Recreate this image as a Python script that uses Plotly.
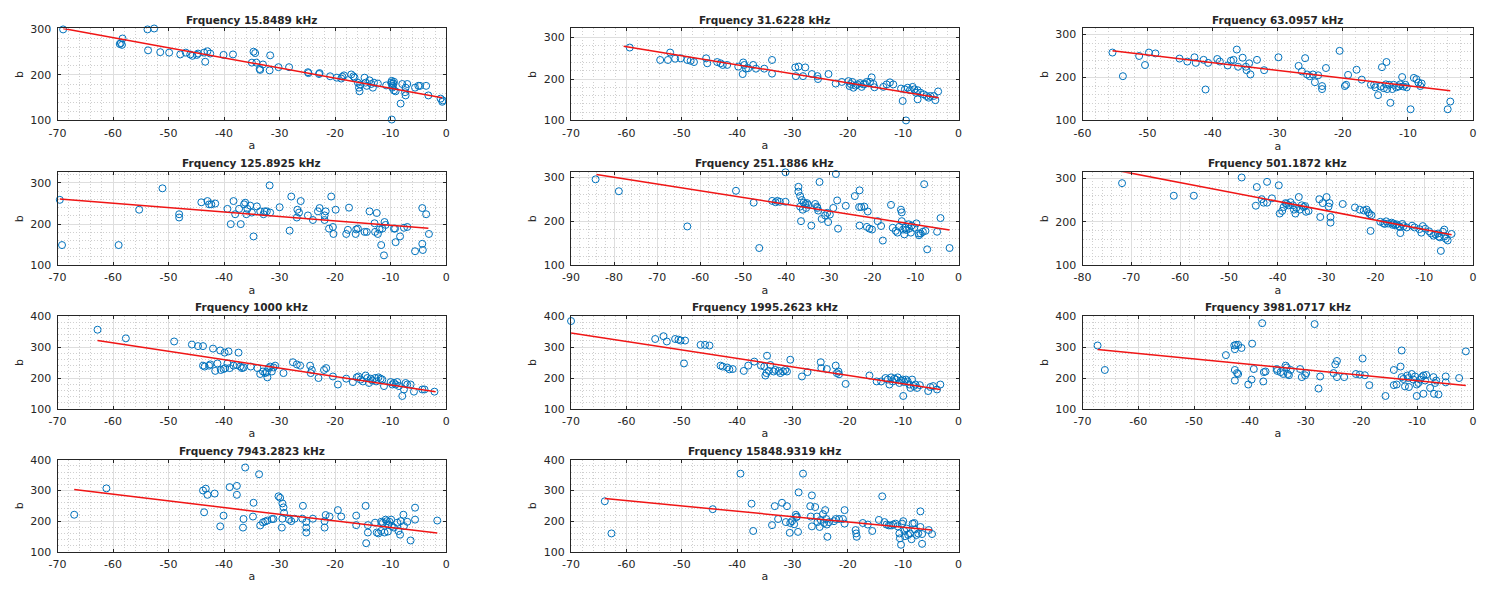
import plotly.graph_objects as go

# Frequencies shown in each subplot title (kHz)
freqs = ["15.8489", "31.6228", "63.0957", "125.8925", "251.1886", "501.1872",
         "1000", "1995.2623", "3981.0717", "7943.2823", "15848.9319"]

# Measured (a, b) pairs for each frequency
p01 = [(-69.0, 300), (-58.3, 280), (-58.6, 270), (-58.4, 266), (-58.8, 268), (-53.8, 300), (-52.6, 302),
       (-53.7, 254), (-51.5, 250), (-49.9, 249), (-47.9, 245), (-46.9, 249), (-46.1, 245), (-45.7, 242),
       (-44.9, 244), (-44.7, 247), (-43.6, 249), (-43.0, 252), (-42.5, 247), (-43.4, 229), (-40.1, 244),
       (-38.4, 245), (-34.7, 251), (-34.4, 248), (-34.2, 227), (-35.0, 227), (-33.5, 211), (-33.6, 213),
       (-33.0, 223), (-31.7, 243), (-31.8, 210), (-30.2, 217), (-28.3, 217), (-24.9, 206), (-24.8, 204),
       (-22.9, 202), (-22.8, 204), (-20.9, 197), (-19.7, 194), (-18.9, 192), (-18.7, 196), (-18.4, 199),
       (-17.1, 201), (-16.7, 197), (-16.5, 194), (-15.9, 183), (-15.7, 172), (-15.6, 164), (-15.5, 179),
       (-14.7, 194), (-14.5, 183), (-14.3, 176), (-13.8, 188), (-13.5, 180), (-13.2, 172), (-13.0, 183),
       (-12.3, 181), (-10.8, 177), (-9.9, 183), (-9.8, 180), (-9.6, 176), (-9.5, 181), (-9.7, 172),
       (-9.4, 185), (-9.8, 187), (-9.8, 102), (-9.4, 166), (-9.1, 164), (-8.2, 137), (-7.9, 180),
       (-7.3, 172), (-7.0, 180), (-7.4, 162), (-7.3, 155), (-5.6, 172), (-5.0, 176), (-4.7, 176),
       (-3.6, 176), (-3.2, 155), (-1.0, 148), (-0.7, 141), (-0.6, 144)]

p02 = [(-60.6, 324), (-59.4, 276), (-53.9, 246), (-52.5, 246), (-52.1, 264), (-51.2, 249), (-50.2, 250),
       (-49.0, 246), (-48.4, 244), (-47.8, 241), (-45.6, 250), (-45.4, 238), (-43.6, 241), (-43.0, 238),
       (-42.6, 234), (-41.8, 234), (-39.8, 230), (-38.9, 240), (-38.7, 234), (-39.0, 212), (-38.4, 225),
       (-38.0, 226), (-37.1, 234), (-36.6, 225), (-35.1, 225), (-33.7, 246), (-33.7, 213), (-29.5, 228),
       (-29.4, 207), (-28.9, 230), (-28.1, 207), (-27.7, 228), (-26.5, 212), (-25.5, 207), (-25.4, 200),
       (-23.5, 212), (-22.2, 189), (-21.1, 193), (-19.9, 195), (-19.7, 183), (-19.5, 188), (-19.2, 193),
       (-19.0, 179), (-18.6, 184), (-18.3, 187), (-17.8, 190), (-17.5, 181), (-17.2, 187), (-16.9, 188),
       (-16.6, 193), (-16.0, 193), (-15.7, 204), (-15.4, 188), (-15.2, 180), (-13.6, 181), (-13.0, 187),
       (-12.4, 192), (-11.8, 187), (-10.1, 147), (-9.5, 100), (-10.4, 177), (-9.7, 175), (-9.2, 179),
       (-8.8, 173), (-8.3, 181), (-8.0, 175), (-7.7, 167), (-7.4, 173), (-6.9, 167), (-6.3, 163),
       (-5.8, 159), (-5.4, 155), (-5.1, 159), (-4.5, 159), (-4.2, 149), (-3.7, 170), (-7.4, 151)]

p03 = [(-55.4, 258), (-53.8, 203), (-51.3, 250), (-49.8, 258), (-48.8, 256), (-50.4, 229), (-45.1, 244),
       (-43.9, 237), (-42.8, 247), (-42.6, 234), (-41.4, 241), (-40.7, 234), (-41.1, 172), (-39.3, 243),
       (-38.9, 237), (-37.7, 228), (-37.2, 239), (-36.8, 241), (-36.3, 265), (-36.1, 225), (-35.4, 246),
       (-34.9, 225), (-34.8, 217), (-34.4, 233), (-34.2, 207), (-33.2, 241), (-32.1, 217), (-29.9, 247),
       (-26.8, 227), (-26.3, 214), (-25.5, 207), (-25.1, 203), (-24.6, 207), (-24.3, 189), (-23.8, 205),
       (-23.2, 180), (-23.2, 173), (-25.8, 245), (-22.6, 315), (-22.6, 222), (-20.5, 262), (-19.7, 180),
       (-19.5, 183), (-19.2, 206), (-17.9, 218), (-17.1, 195), (-15.7, 183), (-15.2, 183), (-15.0, 177),
       (-14.6, 159), (-14.2, 179), (-14.0, 224), (-13.7, 175), (-13.4, 184), (-13.3, 236), (-13.2, 173),
       (-12.9, 183), (-12.7, 141), (-12.4, 173), (-12.2, 183), (-11.8, 177), (-11.4, 179), (-11.2, 184),
       (-10.9, 201), (-10.7, 179), (-10.4, 183), (-10.2, 177), (-9.6, 126), (-9.1, 199), (-8.7, 196),
       (-8.4, 188), (-8.1, 180), (-7.9, 186), (-3.9, 126), (-3.5, 144)]

p04 = [(-69.6, 259), (-69.2, 149), (-59.0, 149), (-55.3, 235), (-51.1, 287), (-48.1, 224), (-48.1, 216),
       (-44.1, 253), (-43.0, 256), (-42.7, 248), (-42.3, 248), (-41.6, 250), (-39.4, 237), (-38.8, 200),
       (-38.3, 256), (-38.0, 224), (-37.3, 237), (-37.0, 200), (-36.4, 248), (-36.2, 252), (-36.0, 224),
       (-35.8, 237), (-35.3, 245), (-35.0, 228), (-34.1, 243), (-33.5, 231), (-32.9, 224), (-32.7, 231),
       (-32.3, 231), (-31.8, 294), (-31.7, 228), (-34.7, 170), (-30.0, 241), (-28.2, 184), (-27.9, 267),
       (-26.9, 216), (-26.8, 235), (-26.5, 228), (-26.2, 256), (-24.9, 221), (-24.3, 328), (-24.0, 210),
       (-23.1, 231), (-22.8, 239), (-21.9, 221), (-21.9, 210), (-21.7, 231), (-20.7, 267), (-21.1, 189),
       (-20.4, 193), (-20.3, 176), (-19.9, 235), (-18.0, 176), (-17.7, 186), (-17.5, 240), (-16.3, 176),
       (-16.2, 187), (-15.9, 189), (-14.7, 181), (-14.3, 181), (-13.8, 231), (-12.9, 202), (-12.8, 181),
       (-12.5, 227), (-12.3, 176), (-12.0, 187), (-11.7, 149), (-11.5, 189), (-11.2, 124), (-11.1, 205),
       (-10.9, 198), (-9.4, 189), (-9.2, 189), (-9.1, 156), (-8.3, 170), (-7.6, 191), (-7.0, 193),
       (-5.6, 134), (-4.3, 239), (-4.3, 152), (-4.2, 137), (-3.6, 224), (-3.1, 176)]

p05 = [(-84.3, 295), (-78.9, 268), (-63.0, 188), (-51.7, 269), (-47.6, 242), (-46.3, 313), (-46.3, 139),
       (-43.3, 246), (-42.5, 243), (-42.1, 246), (-41.5, 244), (-40.2, 311), (-40.2, 244), (-37.2, 278),
       (-37.2, 267), (-36.8, 257), (-36.8, 233), (-36.6, 200), (-36.4, 248), (-36.2, 226), (-36.0, 242),
       (-35.6, 239), (-35.4, 230), (-35.2, 241), (-34.9, 237), (-34.2, 190), (-33.3, 239), (-32.9, 233),
       (-32.8, 230), (-32.6, 224), (-32.3, 289), (-31.8, 205), (-31.0, 213), (-30.5, 219), (-30.3, 198),
       (-29.9, 215), (-29.1, 230), (-28.5, 307), (-28.2, 247), (-28.0, 183), (-26.2, 235), (-24.1, 257),
       (-23.0, 270), (-23.1, 232), (-23.0, 190), (-22.6, 232), (-21.9, 233), (-21.1, 222), (-21.3, 187),
       (-20.7, 183), (-20.1, 181), (-18.8, 200), (-18.0, 189), (-17.6, 156), (-15.7, 237), (-15.3, 185),
       (-14.6, 178), (-14.2, 174), (-13.8, 187), (-13.4, 226), (-13.2, 220), (-13.2, 200), (-12.9, 181),
       (-12.6, 170), (-12.4, 185), (-12.1, 180), (-11.6, 193), (-11.5, 183), (-11.1, 174), (-10.9, 190),
       (-10.3, 185), (-9.8, 195), (-9.3, 172), (-9.2, 168), (-8.8, 172), (-8.3, 176), (-8.0, 284),
       (-7.7, 178), (-7.3, 136), (-5.0, 176), (-4.2, 207), (-2.1, 139)]

p06 = [(-71.9, 289), (-61.3, 260), (-57.2, 260), (-47.4, 302), (-44.3, 280), (-44.5, 237), (-43.3, 252),
       (-42.9, 244), (-42.2, 244), (-42.2, 292), (-41.2, 254), (-39.8, 284), (-39.6, 219), (-39.1, 225),
       (-38.8, 234), (-38.4, 243), (-38.2, 241), (-37.8, 238), (-37.4, 245), (-36.9, 238), (-36.7, 228),
       (-36.4, 219), (-36.2, 232), (-35.7, 257), (-35.5, 228), (-35.1, 238), (-34.7, 234), (-34.4, 236),
       (-34.2, 223), (-33.7, 225), (-31.5, 252), (-30.8, 243), (-30.0, 257), (-29.6, 235), (-29.4, 243),
       (-29.2, 198), (-29.2, 211), (-31.3, 211), (-26.7, 241), (-24.2, 233), (-23.2, 228), (-22.4, 226),
       (-21.8, 228), (-21.5, 222), (-21.2, 218), (-20.8, 215), (-21.0, 179), (-19.0, 200), (-18.4, 197),
       (-18.1, 195), (-17.8, 201), (-17.4, 196), (-16.7, 198), (-16.5, 193), (-16.3, 196), (-15.9, 192),
       (-15.6, 194), (-15.2, 190), (-15.0, 188), (-14.9, 174), (-14.5, 195), (-14.2, 190), (-13.6, 187),
       (-12.5, 191), (-12.0, 187), (-11.0, 183), (-10.6, 175), (-10.3, 190), (-9.8, 184), (-9.0, 178),
       (-8.6, 173), (-8.1, 168), (-7.7, 171), (-7.2, 173), (-7.0, 166), (-6.8, 164), (-6.6, 133),
       (-6.2, 177), (-5.9, 166), (-5.6, 161), (-5.2, 157), (-4.4, 172), (-5.9, 182)]

p07 = [(-62.8, 356), (-57.7, 328), (-49.0, 318), (-45.8, 308), (-44.7, 303), (-43.8, 303), (-43.8, 240),
       (-43.5, 237), (-42.7, 240), (-42.5, 244), (-42.0, 295), (-40.7, 289), (-39.9, 282), (-39.2, 286),
       (-37.4, 282), (-41.6, 223), (-41.2, 247), (-40.6, 226), (-40.1, 229), (-39.8, 232), (-39.4, 247),
       (-39.0, 232), (-38.3, 240), (-37.7, 242), (-37.1, 237), (-36.8, 232), (-36.5, 234), (-35.2, 237),
       (-34.0, 232), (-33.5, 213), (-33.0, 221), (-32.6, 216), (-32.3, 219), (-32.2, 202), (-32.0, 232),
       (-31.7, 237), (-31.4, 221), (-31.1, 234), (-30.8, 240), (-29.3, 216), (-27.6, 251), (-26.9, 244),
       (-26.3, 240), (-24.5, 240), (-24.4, 216), (-24.2, 226), (-23.0, 200), (-22.0, 226), (-21.6, 232),
       (-20.4, 205), (-19.5, 179), (-18.0, 198), (-16.8, 187), (-16.1, 202), (-15.8, 205), (-15.4, 195),
       (-15.0, 189), (-14.5, 208), (-14.2, 200), (-13.9, 184), (-13.6, 198), (-13.3, 192), (-12.8, 200),
       (-12.6, 189), (-12.2, 202), (-11.8, 198), (-11.5, 195), (-11.2, 174), (-10.0, 187), (-9.7, 179),
       (-9.4, 184), (-9.1, 179), (-8.8, 187), (-8.5, 174), (-7.9, 142), (-7.6, 163), (-7.3, 184),
       (-7.0, 179), (-6.4, 179), (-5.8, 156), (-4.3, 163), (-3.9, 163), (-2.1, 156)]

p08 = [(-70.0, 384), (-54.8, 326), (-53.3, 335), (-52.7, 318), (-51.2, 326), (-50.6, 324), (-50.2, 321),
       (-49.4, 321), (-49.6, 247), (-46.6, 307), (-45.8, 307), (-45.0, 305), (-43.0, 240), (-42.6, 237),
       (-41.8, 234), (-41.4, 228), (-40.8, 229), (-38.8, 223), (-38.0, 240), (-36.9, 253), (-35.7, 240),
       (-35.1, 237), (-34.6, 272), (-34.9, 208), (-34.7, 216), (-34.3, 223), (-34.0, 242), (-33.4, 221),
       (-33.1, 226), (-32.5, 223), (-32.2, 216), (-31.7, 221), (-31.3, 226), (-31.0, 221), (-30.4, 259),
       (-28.3, 205), (-27.3, 219), (-24.9, 251), (-24.8, 232), (-23.8, 229), (-22.2, 240), (-22.0, 216),
       (-21.7, 221), (-21.6, 212), (-20.4, 181), (-16.1, 208), (-14.8, 189), (-14.0, 189), (-13.2, 200),
       (-12.8, 195), (-12.5, 179), (-12.2, 202), (-11.9, 189), (-11.6, 198), (-11.3, 195), (-11.0, 202),
       (-10.7, 184), (-10.4, 192), (-10.1, 195), (-9.8, 187), (-9.5, 195), (-9.2, 189), (-8.9, 179),
       (-8.7, 168), (-8.4, 195), (-8.1, 174), (-7.8, 179), (-7.5, 168), (-7.0, 177), (-10.0, 142),
       (-5.5, 158), (-5.1, 171), (-4.6, 174), (-3.9, 163), (-3.3, 179)]

p09 = [(-67.3, 305), (-66.0, 226), (-44.3, 274), (-42.8, 305), (-42.5, 307), (-42.7, 293), (-42.1, 307),
       (-41.5, 297), (-42.7, 226), (-42.3, 216), (-42.7, 192), (-42.1, 213), (-39.6, 311), (-39.3, 229),
       (-39.7, 195), (-40.3, 179), (-37.8, 377), (-37.6, 189), (-37.5, 219), (-37.2, 221), (-35.2, 229),
       (-35.1, 223), (-34.5, 219), (-34.0, 213), (-33.6, 240), (-33.4, 234), (-33.2, 213), (-33.0, 209),
       (-32.7, 226), (-31.0, 229), (-30.7, 203), (-30.1, 209), (-29.9, 216), (-28.4, 374), (-27.7, 166),
       (-27.4, 205), (-25.0, 216), (-24.7, 244), (-24.4, 255), (-24.4, 203), (-23.1, 203), (-21.0, 213),
       (-20.3, 211), (-19.8, 263), (-19.4, 209), (-18.6, 177), (-15.7, 142), (-14.2, 226), (-14.2, 177),
       (-13.7, 179), (-13.0, 237), (-12.8, 289), (-12.8, 203), (-12.5, 197), (-12.2, 173), (-11.8, 208),
       (-11.6, 200), (-11.5, 171), (-11.0, 213), (-10.7, 195), (-10.4, 205), (-10.1, 179), (-9.8, 184),
       (-9.5, 195), (-9.2, 203), (-8.9, 208), (-8.6, 192), (-8.4, 210), (-10.1, 142), (-8.9, 149),
       (-7.7, 168), (-7.0, 149), (-6.2, 147), (-7.1, 203), (-6.6, 192), (-6.8, 184), (-4.9, 205),
       (-4.9, 186), (-2.5, 200), (-1.3, 286)]

p10 = [(-67.0, 221), (-61.2, 307), (-43.8, 300), (-43.3, 306), (-43.6, 229), (-43.0, 286), (-41.7, 290),
       (-40.7, 183), (-40.1, 218), (-39.0, 311), (-37.7, 286), (-37.7, 315), (-36.5, 207), (-36.6, 179),
       (-36.2, 375), (-34.7, 260), (-34.8, 215), (-33.7, 353), (-33.5, 186), (-33.0, 196), (-32.6, 199),
       (-32.2, 202), (-31.4, 207), (-31.1, 207), (-30.2, 281), (-29.9, 276), (-29.5, 258), (-29.3, 245),
       (-29.2, 227), (-29.6, 179), (-29.5, 208), (-28.3, 205), (-27.9, 200), (-27.3, 208), (-25.8, 250),
       (-25.9, 208), (-25.2, 197), (-25.2, 179), (-25.2, 163), (-24.0, 208), (-21.9, 200), (-21.9, 179),
       (-21.7, 220), (-21.0, 215), (-19.5, 236), (-18.9, 215), (-16.2, 218), (-16.2, 187), (-14.5, 250),
       (-14.4, 128), (-14.1, 187), (-14.1, 163), (-12.8, 195), (-12.5, 163), (-12.2, 160), (-11.7, 168),
       (-11.7, 198), (-11.4, 195), (-11.1, 163), (-10.9, 205), (-10.7, 200), (-10.5, 166), (-10.4, 189),
       (-10.2, 198), (-9.9, 205), (-9.8, 184), (-9.4, 179), (-8.8, 195), (-8.6, 168), (-8.3, 156),
       (-8.2, 200), (-7.7, 221), (-7.6, 184), (-7.0, 198), (-6.4, 137), (-5.6, 244), (-5.6, 205),
       (-1.6, 202)]

p11 = [(-63.9, 265), (-62.7, 160), (-44.4, 239), (-39.4, 355), (-37.4, 257), (-37.1, 168), (-33.7, 187),
       (-33.2, 249), (-32.6, 207), (-31.9, 260), (-31.0, 249), (-31.2, 197), (-30.5, 162), (-30.4, 194),
       (-30.1, 200), (-29.7, 190), (-29.4, 221), (-29.3, 213), (-29.2, 215), (-29.0, 165), (-28.9, 294),
       (-28.1, 355), (-26.5, 284), (-26.8, 249), (-26.7, 215), (-26.5, 183), (-25.9, 246), (-25.6, 215),
       (-25.5, 197), (-25.1, 181), (-24.9, 204), (-24.5, 223), (-24.3, 194), (-24.1, 236), (-23.9, 207),
       (-23.8, 189), (-23.7, 149), (-23.4, 197), (-22.5, 200), (-22.2, 207), (-21.6, 207), (-20.9, 207),
       (-20.6, 236), (-20.6, 192), (-18.6, 171), (-18.5, 160), (-18.4, 149), (-17.3, 194), (-16.4, 189),
       (-15.6, 168), (-14.4, 204), (-13.8, 281), (-13.4, 197), (-13.0, 189), (-12.6, 186), (-12.2, 186),
       (-11.8, 189), (-11.4, 192), (-11.0, 183), (-10.7, 160), (-10.6, 144), (-10.4, 123), (-10.2, 192),
       (-10.0, 200), (-9.8, 168), (-9.7, 151), (-9.4, 176), (-9.1, 155), (-8.8, 160), (-8.5, 141),
       (-8.3, 192), (-8.0, 194), (-7.9, 173), (-7.6, 155), (-7.3, 160), (-6.9, 181), (-6.6, 158),
       (-6.9, 232), (-6.6, 126), (-5.4, 171), (-4.8, 158)]

# Least-squares fit lines: (a_start, b_start), (a_end, b_end)
fit01 = [(-69.0, 302), (-0.7, 150)]
fit02 = [(-60.5, 279), (-3.6, 155)]
fit03 = [(-55.4, 262), (-3.5, 169)]
fit04 = [(-69.6, 261), (-3.2, 190)]
fit05 = [(-84.1, 306), (-2.1, 180)]
fit06 = [(-71.9, 316), (-4.4, 170)]
fit07 = [(-62.8, 321), (-1.9, 156)]
fit08 = [(-70.0, 345), (-3.3, 163)]
fit09 = [(-67.3, 292), (-1.3, 176)]
fit10 = [(-67.0, 303), (-1.6, 161)]
fit11 = [(-63.9, 274), (-4.8, 171)]

# Axis limits per subplot
a_lims = [(-70, 0), (-70, 0), (-60, 0), (-70, 0), (-90, 0), (-80, 0),
          (-70, 0), (-70, 0), (-70, 0), (-70, 0), (-70, 0)]
b_lims = [(100, 302), (100, 322), (100, 314), (100, 326), (100, 311), (100, 314),
          (100, 400), (100, 400), (100, 400), (100, 400), (100, 400)]

points = [p01, p02, p03, p04, p05, p06, p07, p08, p09, p10, p11]
fits = [fit01, fit02, fit03, fit04, fit05, fit06, fit07, fit08, fit09, fit10, fit11]

# ---- layout geometry (pixels) ----
W, H = 1485, 595
col_px = [(49, 441), (567, 958), (1083, 1477)]
row_px = [(23, 117), (170, 265), (317, 412), (464, 558)]

FONT = "DejaVu Sans"
TXT = "#262626"
BLUE = "#0072BD"
RED = "#F01515"
GRID = "#dedede"
MINOR = "#cfcfcf"

fig = go.Figure()
layout = dict(
    width=W, height=H,
    margin=dict(l=0, r=0, t=0, b=0),
    paper_bgcolor="white", plot_bgcolor="white",
    showlegend=False,
    font=dict(family=FONT, size=11, color=TXT),
    annotations=[],
)

for i, (pts, fit) in enumerate(zip(points, fits)):
    r, c = divmod(i, 3)
    n = i + 1
    xs = [p[0] for p in pts]
    ys = [p[1] for p in pts]
    fig.add_trace(go.Scatter(
        x=xs, y=ys, mode="markers", xaxis=f"x{n}", yaxis=f"y{n}",
        marker=dict(symbol="circle-open", size=7, color=BLUE, line=dict(width=1, color=BLUE)),
        cliponaxis=False, hoverinfo="x+y",
    ))
    fig.add_trace(go.Scatter(
        x=[fit[0][0], fit[1][0]], y=[fit[0][1], fit[1][1]], mode="lines",
        xaxis=f"x{n}", yaxis=f"y{n}", line=dict(color=RED, width=1.5),
        cliponaxis=False, hoverinfo="skip",
    ))

    x0, x1 = col_px[c]
    y0, y1 = row_px[r]
    xlo, xhi = a_lims[i]
    ylo, yhi = b_lims[i]
    xt = list(range(xlo, xhi + 1, 10))
    yt = list(range(100, int(yhi) + 1, 100))

    common = dict(
        showline=True, linecolor=TXT, linewidth=1, mirror="ticks",
        ticks="inside", ticklen=3, tickcolor=TXT, tickwidth=1,
        showgrid=True, gridcolor=GRID, gridwidth=1,
        zeroline=False, tickfont=dict(family=FONT, size=11, color=TXT),
        tickmode="array",
    )
    xkey = "xaxis" if n == 1 else f"xaxis{n}"
    ykey = "yaxis" if n == 1 else f"yaxis{n}"
    layout[xkey] = dict(
        common, domain=[x0 / W, x1 / W], anchor=f"y{n}", range=[xlo, xhi],
        tickvals=xt, ticktext=[str(v) for v in xt],
        minor=dict(tickmode="linear", tick0=0, dtick=2, showgrid=True,
                   gridcolor=MINOR, griddash="1px,2px", gridwidth=1),
        title=dict(text="a", font=dict(family=FONT, size=11, color=TXT), standoff=2),
        ticklabelstandoff=2,
    )
    layout[ykey] = dict(
        common, domain=[1 - y1 / H, 1 - y0 / H], anchor=f"x{n}", range=[ylo, yhi],
        tickvals=yt, ticktext=[str(v) for v in yt],
        minor=dict(tickmode="linear", tick0=0, dtick=20, showgrid=True,
                   gridcolor=MINOR, griddash="1px,2px", gridwidth=1),
        title=dict(text="b", font=dict(family=FONT, size=11, color=TXT), standoff=4),
        ticklabelstandoff=3,
    )
    layout["annotations"].append(dict(
        text=f"<b>Frquency {freqs[i]} kHz</b>",
        x=(x0 + x1) / 2 / W, y=1 - (y0 - 9) / H, xref="paper", yref="paper",
        xanchor="center", yanchor="middle", showarrow=False,
        font=dict(family=FONT, size=10.5, color=TXT),
    ))

fig.update_layout(**layout)
fig.write_html("out.html")
